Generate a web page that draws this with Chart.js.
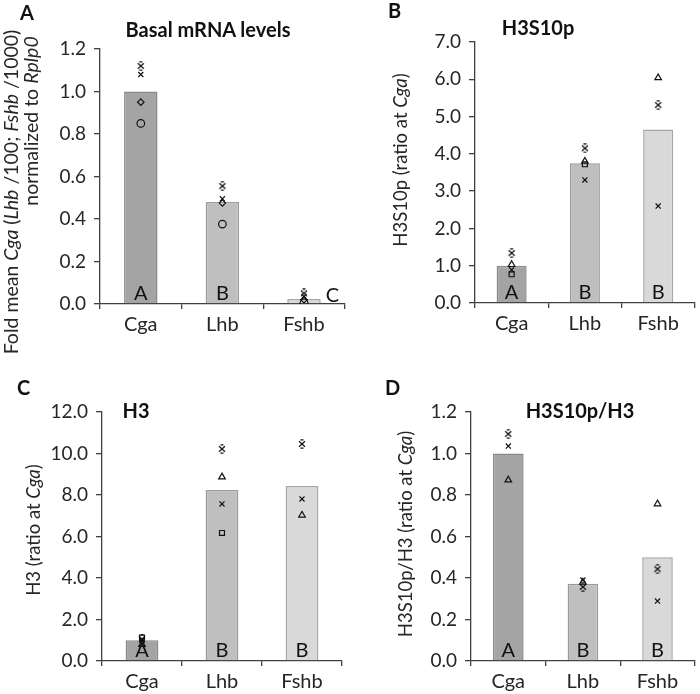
<!DOCTYPE html>
<html>
<head>
<meta charset="utf-8">
<script src="https://cdn.jsdelivr.net/npm/chart.js@4.4.1/dist/chart.umd.min.js"></script>
<style>
  body { margin: 0; background: #fff; }
  #wrap { position: relative; width: 700px; height: 694px; font-family: Lato, sans-serif; color: #262626; }
  canvas { position: absolute; }
  .txt { position: absolute; white-space: nowrap; }
  .letter { font-weight: bold; font-size: 20px; color: #111; }
  .title { font-weight: bold; font-size: 20px; color: #111; transform: translate(-50%, -50%); }
  .ytitle { font-size: 18.5px; transform: translate(-50%, -50%) rotate(-90deg); }
</style>
</head>
<body>
<div id="wrap">
  <canvas id="chartA"></canvas>
  <canvas id="chartB"></canvas>
  <canvas id="chartC"></canvas>
  <canvas id="chartD"></canvas>

  <div class="txt letter" style="left:20px;top:0px">A</div>
  <div class="txt letter" style="left:388px;top:-2px">B</div>
  <div class="txt letter" style="left:17px;top:375px">C</div>
  <div class="txt letter" style="left:385px;top:375px">D</div>

  <div class="txt title" style="left:208px;top:29px">Basal mRNA levels</div>
  <div class="txt title" style="left:538px;top:27px">H3S10p</div>
  <div class="txt title" style="left:136px;top:410px">H3</div>
  <div class="txt title" style="left:580px;top:410px">H3S10p/H3</div>

  <div class="txt ytitle" style="left:10px;top:192px;font-size:19.5px">Fold mean <i>Cga</i> (<i>Lhb</i> /100; <i>Fshb</i> /1000)</div>
  <div class="txt ytitle" style="left:30px;top:121px;font-size:19.5px">normalized to <i>Rplp0</i></div>
  <div class="txt ytitle" style="left:400px;top:160px">H3S10p (ratio at <i>Cga</i>)</div>
  <div class="txt ytitle" style="left:33px;top:530px">H3 (ratio at <i>Cga</i>)</div>
  <div class="txt ytitle" style="left:405px;top:534px">H3S10p/H3 (ratio at <i>Cga</i>)</div>
</div>

<script>
const genes = ['Cga', 'Lhb', 'Fshb'];

// A: basal mRNA levels
const basalMean = [1.0, 0.48, 0.024];
const basalStar = [1.12, 0.555, 0.05];
const basalCross = [1.08, 0.495, 0.035];
const basalDiamond = [0.95, 0.475, 0.02];
const basalCircle = [0.85, 0.376, 0.006];
const basalGroups = ['A', 'B', 'C'];
const basalTicks = [0, 0.2, 0.4, 0.6, 0.8, 1.0, 1.2];

// B: H3S10p
const phosMean = [1.0, 3.75, 4.65];
const phosStar = [1.34, 4.15, 5.31];
const phosCross = [0.89, 3.3, 2.6];
const phosTriangle = [1.03, 3.8, 6.04];
const phosSquare = [0.77, 3.72, null];
const phosGroups = ['A', 'B', 'B'];
const phosTicks = [0, 1, 2, 3, 4, 5, 6, 7];

// C: H3
const h3Mean = [1.0, 8.24, 8.43];
const h3Star = [1.06, 10.22, 10.46];
const h3Cross = [1.0, 7.57, 7.81];
const h3Triangle = [0.8, 8.87, 7.03];
const h3Square = [1.13, 6.17, null];
const h3Groups = ['A', 'B', 'B'];
const h3Ticks = [0, 2, 4, 6, 8, 10, 12];

// D: H3S10p/H3
const ratioMean = [1.0, 0.372, 0.5];
const ratioStar = [1.094, 0.357, 0.443];
const ratioCross = [1.036, 0.39, 0.289];
const ratioTriangle = [0.872, 0.38, 0.757];
const ratioGroups = ['A', 'B', 'B'];
const ratioTicks = [0, 0.2, 0.4, 0.6, 0.8, 1.0, 1.2];

const barFill = ['#a4a4a4', '#bfbfbf', '#d9d9d9'];
const barEdge = ['#8a8a8a', '#9a9a9a', '#a6a6a6'];
const ink = '#111';

Chart.defaults.font.family = 'Lato, sans-serif';
Chart.defaults.color = '#262626';

// excel-ish star marker: x with short caps top and bottom
function makeStar() {
  const c = document.createElement('canvas');
  c.width = 10; c.height = 10;
  const g = c.getContext('2d');
  g.strokeStyle = ink; g.lineWidth = 1.2;
  g.beginPath();
  g.moveTo(2, 2.2); g.lineTo(8, 7.8);
  g.moveTo(8, 2.2); g.lineTo(2, 7.8);
  g.moveTo(3.5, 0.8); g.lineTo(6.5, 0.8);
  g.moveTo(3.5, 9.2); g.lineTo(6.5, 9.2);
  g.stroke();
  return c;
}
const starMark = makeStar();

function marks(data, style, r) {
  return {
    type: 'line', data: data, showLine: false,
    pointStyle: style, pointRadius: r || 3.6,
    pointBorderColor: ink, pointBackgroundColor: 'rgba(0,0,0,0)',
    pointBorderWidth: 1.2
  };
}

const groupLabels = {
  id: 'groupLabels',
  afterDatasetsDraw(chart, args, opts) {
    const ctx = chart.ctx;
    const meta = chart.getDatasetMeta(0);
    const base = chart.scales.y.getPixelForValue(0);
    ctx.save();
    ctx.font = '20px Lato, sans-serif';
    ctx.fillStyle = '#111';
    ctx.textBaseline = 'alphabetic';
    meta.data.forEach((bar, i) => {
      const t = opts.labels[i];
      if (opts.outside && opts.outside[i]) {
        ctx.textAlign = 'left';
        ctx.fillText(t, bar.x + bar.width / 2 + 5, base - 2);
      } else {
        ctx.textAlign = 'center';
        ctx.fillText(t, bar.x, base - 4);
      }
    });
    ctx.restore();
  }
};

function makePanel(id, box, means, series, ticks, digits, labels, outside) {
  const el = document.getElementById(id);
  el.style.left = box.left + 'px';
  el.style.top = box.top + 'px';
  el.width = 350; el.height = 347;
  el.style.width = '350px'; el.style.height = '347px';
  const datasets = series.concat([{
    type: 'bar', data: means,
    backgroundColor: barFill, borderColor: barEdge, borderWidth: 1.5,
    barPercentage: 0.41, categoryPercentage: 1, order: 10
  }]);
  // bar first in meta for labels
  datasets.unshift(datasets.pop());
  return new Chart(el, {
    data: { labels: genes, datasets: datasets },
    options: {
      responsive: false, animation: false,
      layout: { padding: { top: box.pt, right: box.pr, left: 0, bottom: 0 } },
      plugins: { legend: { display: false }, tooltip: { enabled: false },
                 groupLabels: { labels: labels, outside: outside } },
      scales: {
        x: {
          grid: { offset: true, drawOnChartArea: false, drawTicks: true, tickLength: 5, color: '#404040', lineWidth: 1.3 },
          border: { color: '#404040', width: 1.3 },
          ticks: { font: { size: 20 }, color: '#262626', padding: 4 },
          afterFit: s => { s.height = box.xh; }
        },
        y: {
          min: ticks[0], max: ticks[ticks.length - 1],
          afterBuildTicks: s => { s.ticks = ticks.map(v => ({ value: v })); },
          grid: { drawOnChartArea: false, drawTicks: true, tickLength: 6, color: '#404040', lineWidth: 1.3 },
          border: { color: '#404040', width: 1.3 },
          ticks: { font: { size: 19 }, color: '#262626', padding: 8,
                   callback: v => Number(v).toFixed(digits) },
          afterFit: s => { s.width = box.yw; }
        }
      }
    },
    plugins: [groupLabels]
  });
}

makePanel('chartA', { left: 0, top: 0, pt: 49, pr: 1, xh: 43, yw: 100 }, basalMean, [
  marks(basalStar, starMark), marks(basalCross, 'crossRot'),
  marks(basalDiamond, 'rectRot', 3.2), marks(basalCircle, 'circle', 3.8)
], basalTicks, 1, basalGroups, [false, false, true]);

makePanel('chartB', { left: 350, top: 0, pt: 42, pr: 3, xh: 44, yw: 125 }, phosMean, [
  marks(phosStar, starMark), marks(phosCross, 'crossRot'),
  marks(phosTriangle, 'triangle', 3.8), marks(phosSquare, 'rect', 3.5)
], phosTicks, 1, phosGroups);

makePanel('chartC', { left: 0, top: 347, pt: 65, pr: 8, xh: 33, yw: 102 }, h3Mean, [
  marks(h3Star, starMark), marks(h3Cross, 'crossRot'),
  marks(h3Triangle, 'triangle', 3.8), marks(h3Square, 'rect', 3.5)
], h3Ticks, 1, h3Groups);

makePanel('chartD', { left: 350, top: 347, pt: 65, pr: 3, xh: 33, yw: 121 }, ratioMean, [
  marks(ratioStar, starMark), marks(ratioCross, 'crossRot'),
  marks(ratioTriangle, 'triangle', 3.8)
], ratioTicks, 1, ratioGroups);
</script>
</body>
</html>
